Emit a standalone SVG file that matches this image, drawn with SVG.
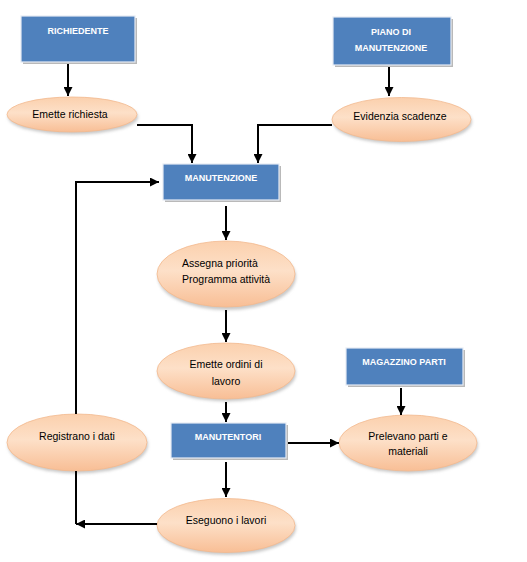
<svg xmlns="http://www.w3.org/2000/svg" width="527" height="562" viewBox="0 0 527 562">
<defs>
<linearGradient id="peach" x1="0" y1="0" x2="0" y2="1">
<stop offset="0" stop-color="#fbd0ad"/>
<stop offset="0.45" stop-color="#fde0c8"/>
<stop offset="1" stop-color="#f8be95"/>
</linearGradient>
<filter id="soft" x="-20%" y="-20%" width="140%" height="150%">
<feGaussianBlur stdDeviation="1.5"/>
</filter>
<marker id="arr" markerUnits="userSpaceOnUse" markerWidth="9" markerHeight="9" refX="9" refY="4.5" orient="auto">
<path d="M0,0 L9,4.5 L0,9 z" fill="#000"/>
</marker>
</defs>
<style>
.box{fill:#4f81bd;stroke:#e6ecf4;stroke-width:1.2}
.bsh{fill:#b9b9b9}
.ell{fill:url(#peach);stroke:#f3b98e;stroke-width:0.8}
.esh{fill:#c9c9c9;filter:url(#soft)}
.bt{font-family:"Liberation Sans",Arial,sans-serif;font-size:9px;font-weight:bold;fill:#fff;text-anchor:middle}
.et{font-family:"Liberation Sans",Arial,sans-serif;font-size:10.5px;fill:#000;text-anchor:middle}
.con{fill:none;stroke:#000;stroke-width:2}
</style>
<rect width="527" height="562" fill="#fff"/>

<g id="richiedente">
<rect class="bsh" x="23" y="18" width="114" height="46"/>
<rect class="box" x="21" y="16" width="114" height="46"/>
<text class="bt" x="78" y="34">RICHIEDENTE</text>
</g>

<g id="piano">
<rect class="bsh" x="335" y="19" width="118" height="48"/>
<rect class="box" x="333" y="17" width="118" height="48"/>
<text class="bt" x="391" y="35">PIANO DI</text>
<text class="bt" x="391" y="51">MANUTENZIONE</text>
</g>

<g id="emette-richiesta">
<ellipse class="esh" cx="73" cy="117" rx="65" ry="17.5"/>
<ellipse class="ell" cx="72" cy="114.5" rx="65" ry="17.5"/>
<text class="et" x="70" y="118">Emette richiesta</text>
</g>

<g id="evidenzia">
<ellipse class="esh" cx="402.5" cy="122" rx="69.5" ry="22"/>
<ellipse class="ell" cx="401.5" cy="119.5" rx="69.5" ry="22"/>
<text class="et" x="400" y="120">Evidenzia scadenze</text>
</g>

<g id="manutenzione">
<rect class="bsh" x="165" y="166" width="116" height="36"/>
<rect class="box" x="163" y="164" width="116" height="36"/>
<text class="bt" x="221" y="181">MANUTENZIONE</text>
</g>

<g id="assegna">
<ellipse class="esh" cx="227" cy="277" rx="69" ry="33"/>
<ellipse class="ell" cx="226" cy="274" rx="69" ry="33"/>
<text class="et" x="182" y="267" style="text-anchor:start">Assegna priorità</text>
<text class="et" x="182" y="283" style="text-anchor:start">Programma attività</text>
</g>

<g id="emette-ordini">
<ellipse class="esh" cx="227" cy="373.5" rx="69" ry="28"/>
<ellipse class="ell" cx="226" cy="371" rx="69" ry="28"/>
<text class="et" x="226" y="368">Emette ordini di</text>
<text class="et" x="226" y="385">lavoro</text>
</g>

<g id="manutentori">
<rect class="bsh" x="173" y="425" width="115" height="35"/>
<rect class="box" x="171" y="423" width="115" height="35"/>
<text class="bt" x="228" y="440">MANUTENTORI</text>
</g>

<g id="eseguono">
<ellipse class="esh" cx="227" cy="528" rx="69" ry="27"/>
<ellipse class="ell" cx="226" cy="525.5" rx="69" ry="27"/>
<text class="et" x="226" y="524">Eseguono i lavori</text>
</g>

<g id="registrano">
<ellipse class="esh" cx="78" cy="445" rx="70" ry="28.5"/>
<ellipse class="ell" cx="77" cy="442.5" rx="70" ry="28.5"/>
<text class="et" x="77" y="440">Registrano i dati</text>
</g>

<g id="magazzino">
<rect class="bsh" x="348" y="350" width="117" height="37"/>
<rect class="box" x="346" y="348" width="117" height="37"/>
<text class="bt" x="404" y="365">MAGAZZINO PARTI</text>
</g>

<g id="prelevano">
<ellipse class="esh" cx="409" cy="445.5" rx="69" ry="28"/>
<ellipse class="ell" cx="408" cy="443" rx="69" ry="28"/>
<text class="et" x="408" y="440">Prelevano parti e</text>
<text class="et" x="408" y="455">materiali</text>
</g>

<g id="connectors">
<line class="con" x1="68" y1="64" x2="68" y2="96" marker-end="url(#arr)"/>
<polyline class="con" points="137,125 192,125 192,163" marker-end="url(#arr)"/>
<line class="con" x1="389" y1="67" x2="389" y2="96" marker-end="url(#arr)"/>
<polyline class="con" points="332,125 258,125 258,163" marker-end="url(#arr)"/>
<line class="con" x1="226" y1="206" x2="226" y2="240" marker-end="url(#arr)"/>
<line class="con" x1="226" y1="310" x2="226" y2="342" marker-end="url(#arr)"/>
<line class="con" x1="226" y1="402" x2="226" y2="422" marker-end="url(#arr)"/>
<line class="con" x1="226" y1="462" x2="226" y2="497" marker-end="url(#arr)"/>
<line class="con" x1="288" y1="443" x2="339" y2="443" marker-end="url(#arr)"/>
<line class="con" x1="401" y1="388" x2="401" y2="415" marker-end="url(#arr)"/>
<line class="con" x1="157" y1="524" x2="76" y2="524" marker-end="url(#arr)"/>
<line class="con" x1="76" y1="471" x2="76" y2="524"/>
<polyline class="con" points="76,414 76,182 159,182" marker-end="url(#arr)"/>
</g>
</svg>
